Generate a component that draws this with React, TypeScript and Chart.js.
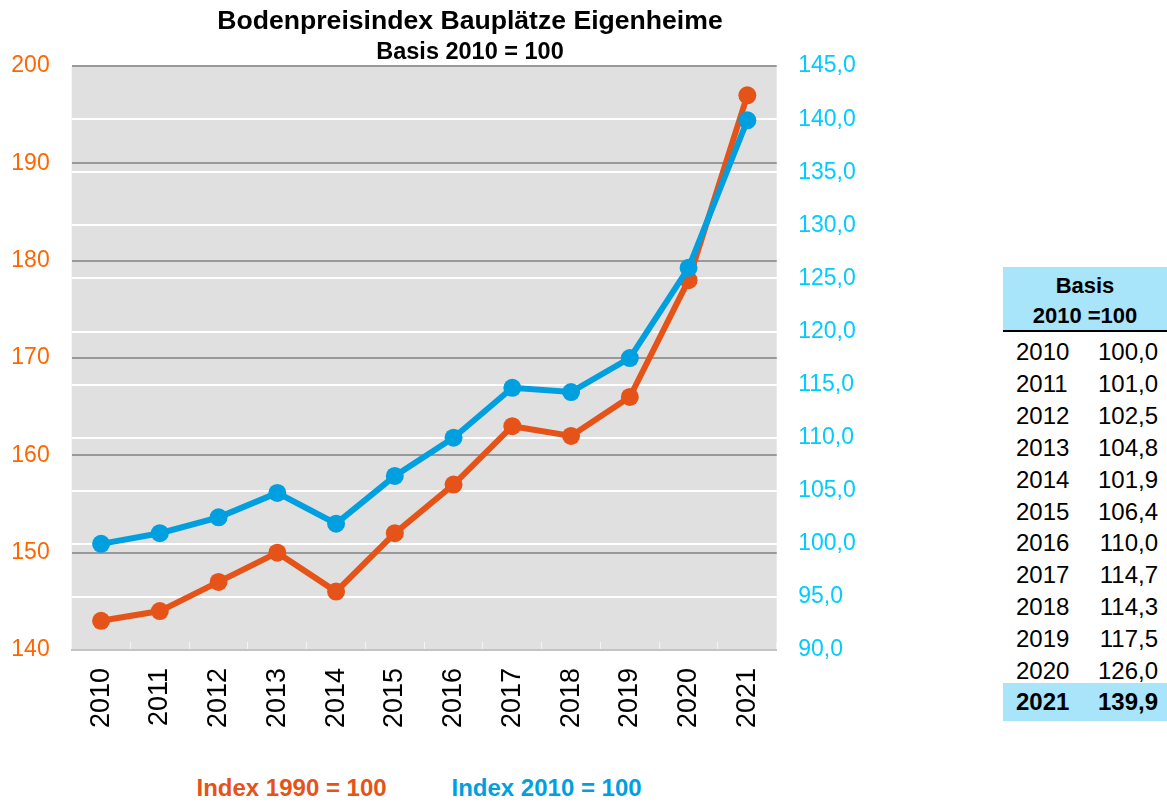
import React, { useEffect, useRef } from "react";
import { Chart, registerables } from "chart.js";

Chart.register(...registerables);

const titleText = "Bodenpreisindex Bauplätze Eigenheime";
const subtitleText = "Basis 2010 = 100";
const years = ["2010", "2011", "2012", "2013", "2014", "2015", "2016", "2017", "2018", "2019", "2020", "2021"];
const index1990 = [143, 144, 147, 150, 146, 152, 157, 163, 162, 166, 178, 197];
const index2010 = [100.0, 101.0, 102.5, 104.8, 101.9, 106.4, 110.0, 114.7, 114.3, 117.5, 126.0, 139.9];
const label1990 = "Index 1990 = 100";
const label2010 = "Index 2010 = 100";
const tableHeader = ["Basis", "2010 =100"];

const ORANGE = "#e55318";
const BLUE = "#009fe0";
const LEFT_TICK = "#ff6600";
const RIGHT_TICK = "#00ccff";
const FONT = "'Liberation Sans', Arial, sans-serif";
const HILITE = "#a8e4fa";

const fmt = (v: number) => v.toFixed(1).replace(".", ",");

const plotBg = {
  id: "plotBg",
  beforeDraw(chart: any) {
    const { ctx, chartArea: a } = chart;
    ctx.save();
    ctx.fillStyle = "#e0e0e0";
    ctx.fillRect(a.left, a.top, a.right - a.left, a.bottom - a.top);
    ctx.restore();
  },
};

function ChartCanvas() {
  const ref = useRef<HTMLCanvasElement>(null);
  useEffect(() => {
    if (!ref.current) return;
    Chart.defaults.font.family = FONT;
    const chart = new Chart(ref.current, {
      type: "line",
      data: {
        labels: years,
        datasets: [
          {
            label: label1990,
            data: index1990,
            yAxisID: "y",
            borderColor: ORANGE,
            backgroundColor: ORANGE,
            borderWidth: 6,
            pointRadius: 9,
            pointBorderWidth: 0,
            pointBackgroundColor: ORANGE,
            tension: 0,
            order: 2,
          },
          {
            label: label2010,
            data: index2010,
            yAxisID: "y1",
            borderColor: BLUE,
            backgroundColor: BLUE,
            borderWidth: 6,
            pointRadius: 9,
            pointBorderWidth: 0,
            pointBackgroundColor: BLUE,
            tension: 0,
            order: 1,
          },
        ],
      },
      options: {
        responsive: false,
        animation: false,
        devicePixelRatio: 1,
        layout: { padding: 0 },
        plugins: {
          legend: { display: false },
          tooltip: { enabled: false },
          title: {
            display: true,
            text: titleText,
            color: "#000",
            font: { size: 26.6, weight: "bold", lineHeight: 1.2 },
            padding: { top: 6, bottom: 0 },
          },
          subtitle: {
            display: true,
            text: subtitleText,
            color: "#000",
            font: { size: 23.5, weight: "bold", lineHeight: 1.2 },
            padding: { top: 0, bottom: 0 },
          },
        },
        scales: {
          x: {
            type: "category",
            offset: true,
            grid: {
              display: true,
              offset: true,
              drawOnChartArea: false,
              drawTicks: true,
              tickLength: -8,
              tickColor: "#f4f4f4",
              tickWidth: 1,
            },
            border: { display: true, color: "#c4c4c4", width: 2 },
            ticks: {
              color: "#000",
              font: { size: 27 },
              minRotation: 90,
              maxRotation: 90,
              padding: 26,
              autoSkip: false,
            },
            afterFit(s: any) {
              s.height = 109;
            },
          },
          y: {
            position: "left",
            min: 140,
            max: 200,
            ticks: { stepSize: 10, color: LEFT_TICK, font: { size: 23 }, padding: 22 },
            grid: {
              color: (c: any) => (c.tick && c.tick.value === 140 ? "rgba(0,0,0,0)" : "#999999"),
              lineWidth: 2,
              drawTicks: false,
            },
            border: { display: false },
            afterFit(s: any) {
              s.width = 71.7;
            },
          },
          y1: {
            position: "right",
            min: 90,
            max: 145,
            ticks: {
              stepSize: 5,
              color: RIGHT_TICK,
              font: { size: 23 },
              padding: 21.5,
              callback: (v: any) => fmt(Number(v)),
            },
            grid: {
              color: (c: any) =>
                c.tick && (c.tick.value === 90 || c.tick.value === 145) ? "rgba(0,0,0,0)" : "#ffffff",
              lineWidth: 2,
              drawTicks: false,
            },
            border: { display: false },
            afterFit(s: any) {
              s.width = 163.3;
            },
          },
        },
      } as any,
      plugins: [plotBg],
    });
    return () => chart.destroy();
  }, []);
  return (
    <canvas
      ref={ref}
      width={940}
      height={759}
      style={{ position: "absolute", left: 0, top: 0, width: 940, height: 759 }}
    />
  );
}

export default function App() {
  const rowTop = (i: number) => 336 + i * 31.9;
  return (
    <div
      style={{
        position: "absolute",
        left: 0,
        top: 0,
        width: 1167,
        height: 802,
        overflow: "hidden",
        background: "#fff",
        fontFamily: FONT,
      }}
    >
      <ChartCanvas />
      <div
        style={{
          position: "absolute",
          left: 196.5,
          top: 776,
          font: `bold 24px ${FONT}`,
          lineHeight: "24px",
          color: ORANGE,
          whiteSpace: "nowrap",
        }}
      >
        {label1990}
      </div>
      <div
        style={{
          position: "absolute",
          left: 451.5,
          top: 776,
          font: `bold 24px ${FONT}`,
          lineHeight: "24px",
          color: BLUE,
          whiteSpace: "nowrap",
        }}
      >
        {label2010}
      </div>
      <div
        style={{
          position: "absolute",
          left: 1003,
          top: 267,
          width: 164,
          height: 63,
          background: HILITE,
          borderBottom: "2px solid #000",
          boxSizing: "content-box",
          textAlign: "center",
          font: `bold 22px ${FONT}`,
          lineHeight: "30px",
          paddingTop: 0,
        }}
      >
        <div style={{ paddingTop: 4 }}>{tableHeader[0]}</div>
        <div>{tableHeader[1]}</div>
      </div>
      {years.map((y, i) => {
        const last = i === years.length - 1;
        const top = last ? 683 : rowTop(i);
        return (
          <div
            key={y}
            style={{
              position: "absolute",
              left: 1003,
              top,
              width: 164,
              height: last ? 38 : 32,
              background: last ? HILITE : "transparent",
              font: `${last ? "bold " : ""}24px ${FONT}`,
              lineHeight: "32px",
              color: "#000",
            }}
          >
            <span style={{ position: "absolute", left: 13, top: last ? 3 : 0 }}>{y}</span>
            <span style={{ position: "absolute", right: 9, top: last ? 3 : 0 }}>{fmt(index2010[i])}</span>
          </div>
        );
      })}
    </div>
  );
}
